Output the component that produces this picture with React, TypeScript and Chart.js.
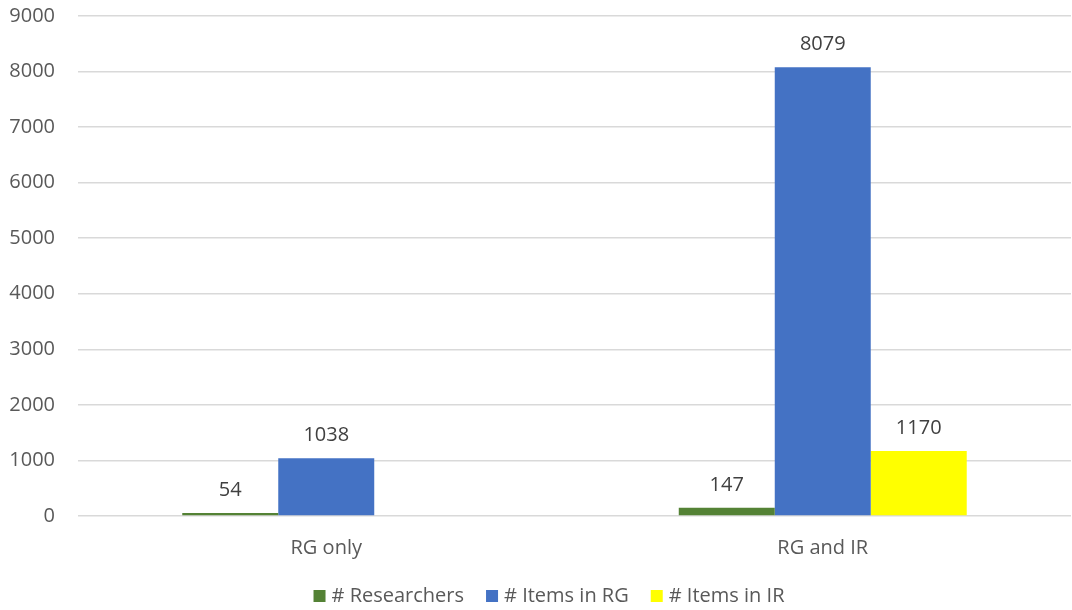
import React, { useEffect, useRef } from "react";
import { Chart, registerables } from "chart.js";

Chart.register(...registerables);

const categories = ["RG only", "RG and IR"];
const researchers = [54, 147];
const itemsInRG = [1038, 8079];
const itemsInIR: (number | null)[] = [null, 1170];
const seriesNames = ["# Researchers", "# Items in RG", "# Items in IR"];
const seriesColors = ["#548235", "#4472C4", "#FFFF00"];

const FONT = "'Open Sans', 'Noto Sans', sans-serif";
const FS = 20;

const valueLabels = {
  id: "valueLabels",
  afterDatasetsDraw(chart: any) {
    const ctx = chart.ctx;
    ctx.save();
    ctx.font = `${FS}px ${FONT}`;
    ctx.fillStyle = "#404040";
    ctx.textAlign = "center";
    ctx.textBaseline = "middle";
    chart.data.datasets.forEach((ds: any, di: number) => {
      const meta = chart.getDatasetMeta(di);
      meta.data.forEach((bar: any, i: number) => {
        const v = ds.data[i];
        if (v === null || v === undefined) return;
        ctx.fillText(String(v), bar.x, bar.y - 23);
      });
    });
    ctx.restore();
  },
};

const bottomLegend = {
  id: "bottomLegend",
  afterDraw(chart: any) {
    const ctx = chart.ctx;
    ctx.save();
    ctx.font = `${FS}px ${FONT}`;
    ctx.textBaseline = "middle";
    ctx.textAlign = "left";
    const box = 12;
    const gapBoxText = 6;
    const gapItems = 22;
    const widths = chart.data.datasets.map((ds: any) => box + gapBoxText + ctx.measureText(ds.label).width);
    const total = widths.reduce((a: number, b: number) => a + b, 0) + gapItems * (widths.length - 1);
    let x = 549 - total / 2;
    const y = 596;
    chart.data.datasets.forEach((ds: any, i: number) => {
      ctx.fillStyle = ds.backgroundColor;
      ctx.fillRect(x, y - box / 2, box, box);
      ctx.fillStyle = "#595959";
      ctx.fillText(ds.label, x + box + gapBoxText, y);
      x += widths[i] + gapItems;
    });
    ctx.restore();
  },
};

export default function App() {
  const ref = useRef<HTMLCanvasElement | null>(null);
  useEffect(() => {
    if (!ref.current) return;
    const chart = new Chart(ref.current, {
      type: "bar",
      data: {
        labels: categories,
        datasets: [
          { label: seriesNames[0], data: researchers, backgroundColor: seriesColors[0] },
          { label: seriesNames[1], data: itemsInRG, backgroundColor: seriesColors[1] },
          { label: seriesNames[2], data: itemsInIR, backgroundColor: seriesColors[2] },
        ],
      },
      options: {
        animation: false,
        responsive: false,
        maintainAspectRatio: false,
        datasets: { bar: { categoryPercentage: 0.58, barPercentage: 1 } },
        layout: { padding: { top: 16, right: 1, left: 0, bottom: 50 } },
        plugins: {
          legend: { display: false },
          tooltip: { enabled: false },
        },
        scales: {
          x: {
            grid: { display: false, drawTicks: false },
            border: { display: false },
            ticks: { color: "#595959", font: { family: FONT, size: FS }, padding: 20 },
            afterFit(scale: any) {
              scale.height = 44;
              scale.paddingTop = 0;
              scale.paddingBottom = 0;
            },
          },
          y: {
            min: 0,
            max: 9000,
            ticks: {
              stepSize: 1000,
              color: "#595959",
              font: { family: FONT, size: FS },
              padding: 23,
              callback: (v: any) => String(v),
            },
            grid: { color: "#d9d9d9", lineWidth: 1.5, drawTicks: false },
            border: { display: false },
            afterFit(scale: any) {
              scale.width = 78;
              scale.paddingTop = 0;
              scale.paddingBottom = 0;
            },
          },
        },
      },
      plugins: [valueLabels, bottomLegend],
    });
    return () => chart.destroy();
  }, []);
  return (
    <div style={{ position: "fixed", left: 0, top: 0, width: 1072, height: 610, background: "#fff" }}>
      <canvas ref={ref} width={1072} height={610} />
    </div>
  );
}
